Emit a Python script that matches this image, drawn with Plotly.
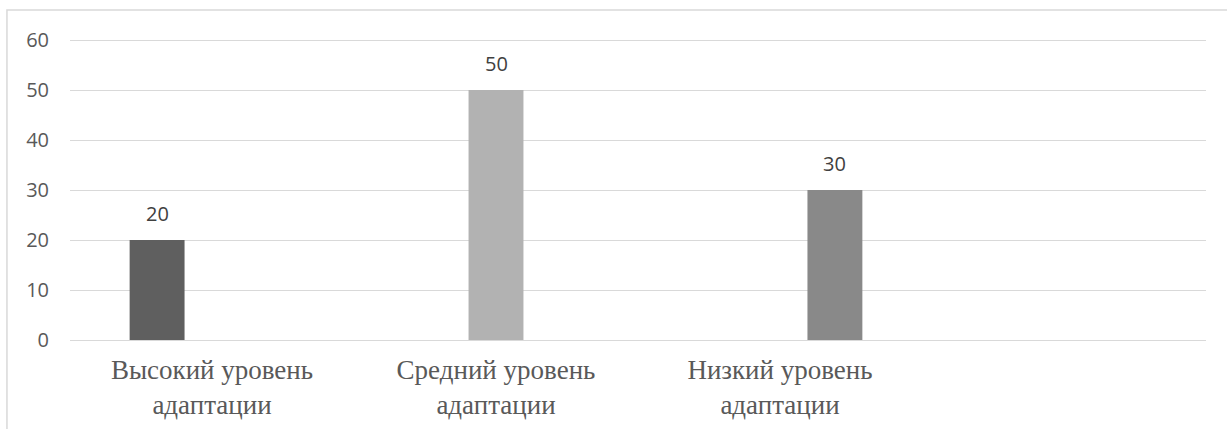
import plotly.graph_objects as go

# Adaptation levels (category axis) and the share for each level
categories = ["Высокий уровень<br>адаптации", "Средний уровень<br>адаптации", "Низкий уровень<br>адаптации"]
series_names = ["Высокий", "Средний", "Низкий"]
high_values = [20, None, None]
mid_values = [None, 50, None]
low_values = [None, None, 30]
y_ticks = [0, 10, 20, 30, 40, 50, 60]

series_values = [high_values, mid_values, low_values]
colors = ["#5f5f5f", "#b2b2b2", "#898989"]

bargap = 0.42
n_series = len(series_values)
bar_w = (1 - bargap) / n_series

fig = go.Figure()
annotations = []
for j, (name, vals, col) in enumerate(zip(series_names, series_values, colors)):
    fig.add_trace(go.Bar(
        name=name, x=categories, y=vals,
        marker=dict(color=col, line=dict(width=0)),
        showlegend=False, hoverinfo="skip",
    ))
    # value labels above each bar, centred on the bar inside its group
    for i, v in enumerate(vals):
        if v is None:
            continue
        annotations.append(dict(
            x=i + (j - (n_series - 1) / 2) * bar_w, y=v,
            xref="x", yref="y", text=str(v), showarrow=False,
            yanchor="bottom", yshift=11,
            font=dict(family="Open Sans", size=20, color="#404040"),
        ))

fig.update_layout(
    width=1227, height=429,
    margin=dict(l=70, r=21, t=35, b=89),
    paper_bgcolor="white", plot_bgcolor="white",
    barmode="group", bargap=bargap, bargroupgap=0,
    annotations=annotations,
    shapes=[dict(
        type="rect", xref="paper", yref="paper",
        x0=-0.0555, x1=1.03, y0=-0.31, y1=1.082,
        line=dict(color="#d9d9d9", width=1.5), fillcolor="rgba(0,0,0,0)",
        layer="below",
    )],
)

fig.update_xaxes(
    type="category", range=[-0.5, 3.5], automargin=False,
    showgrid=False, showline=False, zeroline=False,
    ticks="", ticklabelstandoff=11,
    tickfont=dict(family="Times New Roman, Liberation Serif, DejaVu Serif, serif", size=27, color="#595959"),
)
fig.update_yaxes(
    range=[0, 61], tickvals=y_ticks, automargin=False,
    showgrid=True, gridcolor="#d9d9d9", gridwidth=1.3,
    zeroline=True, zerolinecolor="#d9d9d9", zerolinewidth=1.3,
    showline=False, ticks="", ticklabelstandoff=20,
    tickfont=dict(family="Open Sans", size=20, color="#595959"),
)

fig.write_html("out.html")
